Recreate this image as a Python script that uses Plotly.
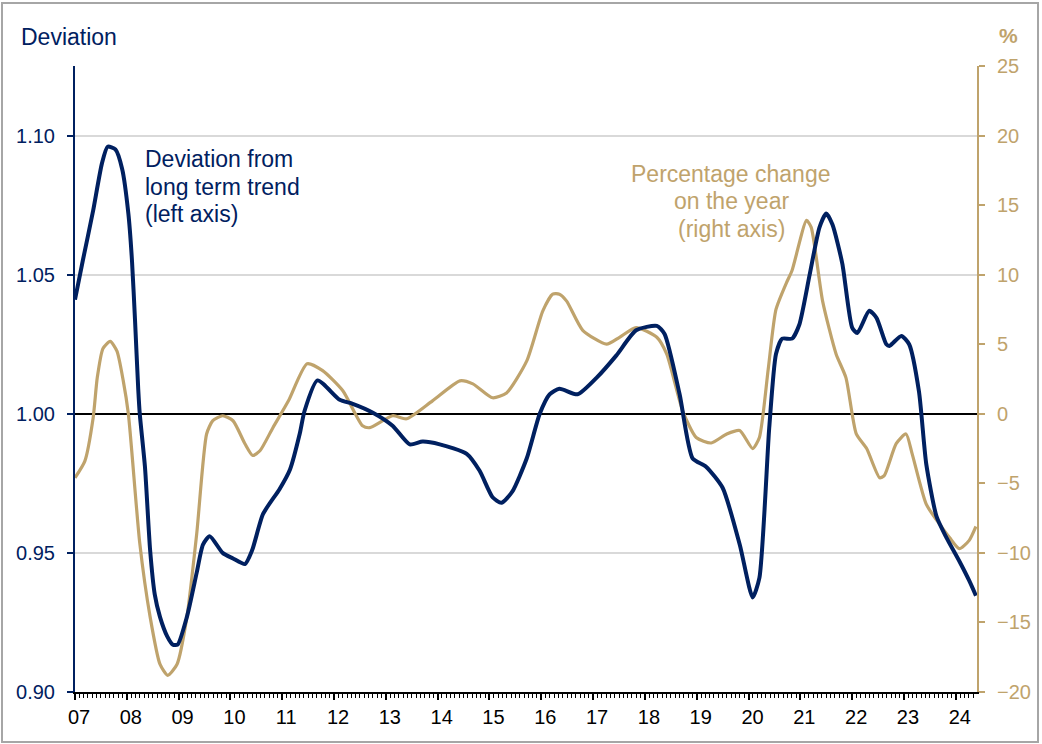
import plotly.graph_objects as go

# ---- data ----
dev_x = [2007.00, 2007.15, 2007.35, 2007.52, 2007.63, 2007.78, 2007.91, 2008.03, 2008.10, 2008.16,
         2008.22, 2008.25, 2008.35, 2008.45, 2008.54, 2008.64, 2008.78, 2008.89, 2008.98, 2009.16,
         2009.35, 2009.47, 2009.60, 2009.85, 2010.05, 2010.28, 2010.42, 2010.63, 2010.95, 2011.15,
         2011.34, 2011.43, 2011.68, 2012.11, 2012.36, 2012.75, 2013.13, 2013.46, 2013.71, 2014.04,
         2014.56, 2014.81, 2015.06, 2015.23, 2015.44, 2015.72, 2015.97, 2016.16, 2016.35, 2016.70,
         2017.07, 2017.45, 2017.83, 2018.23, 2018.38, 2018.67, 2018.92, 2019.18, 2019.50, 2019.83,
         2020.08, 2020.21, 2020.40, 2020.53, 2020.65, 2020.84, 2020.98, 2021.18, 2021.37, 2021.50,
         2021.62, 2021.81, 2022.00, 2022.10, 2022.33, 2022.47, 2022.66, 2022.72, 2022.95, 2023.10,
         2023.29, 2023.43, 2023.63, 2023.82, 2024.07, 2024.26, 2024.39]
dev_y = [1.041, 1.055, 1.073, 1.090, 1.096, 1.095, 1.088, 1.072, 1.055, 1.033,
         1.009, 1.000, 0.981, 0.951, 0.935, 0.927, 0.920, 0.917, 0.917, 0.927,
         0.943, 0.953, 0.956, 0.950, 0.948, 0.946, 0.951, 0.964, 0.973, 0.980,
         0.993, 1.001, 1.012, 1.005, 1.0036, 1.0004, 0.9957, 0.989, 0.990, 0.989,
         0.9856, 0.9795, 0.970, 0.968, 0.972, 0.984, 1.000, 1.007, 1.009, 1.007,
         1.013, 1.021, 1.030, 1.0316, 1.0287, 1.007, 0.984, 0.981, 0.9734, 0.953,
         0.934, 0.941, 0.995, 1.0215, 1.027, 1.027, 1.032, 1.050, 1.067, 1.072,
         1.068, 1.054, 1.031, 1.029, 1.037, 1.0345, 1.025, 1.0244, 1.028, 1.025,
         1.008, 0.982, 0.963, 0.9555, 0.947, 0.940, 0.9346]

pct_x = [2007.00, 2007.19, 2007.35, 2007.43, 2007.54, 2007.68, 2007.81, 2007.93, 2008.03, 2008.25,
         2008.45, 2008.64, 2008.79, 2008.97, 2009.16, 2009.35, 2009.54, 2009.66, 2009.85, 2010.05,
         2010.28, 2010.43, 2010.57, 2010.82, 2011.12, 2011.48, 2011.78, 2012.17, 2012.55, 2012.69,
         2013.13, 2013.40, 2013.90, 2014.43, 2014.68, 2015.06, 2015.33, 2015.72, 2016.03, 2016.22,
         2016.35, 2016.49, 2016.80, 2017.26, 2017.51, 2017.83, 2018.23, 2018.42, 2018.73, 2018.99,
         2019.28, 2019.58, 2019.83, 2020.08, 2020.21, 2020.38, 2020.53, 2020.73, 2020.84, 2021.12,
         2021.21, 2021.43, 2021.69, 2021.88, 2022.08, 2022.28, 2022.53, 2022.62, 2022.85, 2023.04,
         2023.16, 2023.43, 2023.68, 2023.88, 2024.07, 2024.26, 2024.39]
pct_y = [-4.6, -3.4, -0.3, 2.6, 4.7, 5.2, 4.5, 2.4, 0.0, -9.3,
         -14.6, -18.0, -18.8, -18.0, -14.6, -8.6, -1.45, -0.5, -0.14, -0.5,
         -2.15, -3.0, -2.66, -1.0, 0.93, 3.6, 3.1, 1.65, -0.86, -1.0,
         -0.14, -0.36, 0.93, 2.37, 2.15, 1.15, 1.5, 3.8, 7.4, 8.6,
         8.6, 8.1, 6.0, 5.0, 5.5, 6.2, 5.5, 4.3, 0.2, -1.7,
         -2.1, -1.45, -1.2, -2.5, -1.7, 3.2, 7.5, 9.4, 10.3, 13.9,
         13.4, 8.1, 4.3, 2.6, -1.45, -2.5, -4.6, -4.45, -2.15, -1.45,
         -2.9, -6.5, -7.9, -8.9, -9.7, -9.1, -8.1]

year_ticks = list(range(2007, 2025))
year_labels = [f"{y % 100:02d}" for y in year_ticks]
left_ticks = [0.90, 0.95, 1.00, 1.05, 1.10]
right_ticks = [-20, -15, -10, -5, 0, 5, 10, 15, 20, 25]

NAVY = "#002060"
GOLD = "#BFA36C"
FONT = "Liberation Sans, Arial, sans-serif"

W, H = 1042, 744
L, R, T, B = 75, 977, 66, 692


def px(x):
    return (x - L) / (R - L)


def py(y):
    return (B - y) / (B - T)


fig = go.Figure()
fig.add_trace(go.Scatter(x=pct_x, y=pct_y, mode="lines", yaxis="y",
                         line=dict(color=GOLD, width=3.2, shape="spline", smoothing=0.6),
                         showlegend=False, hoverinfo="skip"))
fig.add_trace(go.Scatter(x=dev_x, y=dev_y, mode="lines", yaxis="y2",
                         line=dict(color=NAVY, width=4, shape="spline", smoothing=0.6),
                         showlegend=False, hoverinfo="skip"))

annotations = []
for i, t in enumerate(["Deviation from", "long term trend", "(left axis)"]):
    annotations.append(dict(text=t, xref="paper", yref="paper", x=px(143), y=py(159 + 27.5 * i),
                            xanchor="left", yanchor="middle", showarrow=False,
                            font=dict(size=23, color=NAVY, family=FONT)))
for i, t in enumerate(["Percentage change", "on the year", "(right axis)"]):
    annotations.append(dict(text=t, xref="paper", yref="paper", x=px(731), y=py(174 + 27.5 * i),
                            xanchor="center", yanchor="middle", showarrow=False,
                            font=dict(size=23, color=GOLD, family=FONT)))
annotations.append(dict(text="Deviation", xref="paper", yref="paper", x=px(19), y=py(37),
                        xanchor="left", yanchor="middle", showarrow=False,
                        font=dict(size=23, color=NAVY, family=FONT)))
annotations.append(dict(text="<b>%</b>", xref="paper", yref="paper", x=px(1008), y=py(36),
                        xanchor="center", yanchor="middle", showarrow=False,
                        font=dict(size=21, color=GOLD, family=FONT)))

fig.update_layout(
    width=W, height=H,
    margin=dict(l=L, r=W - R, t=T, b=H - B, autoexpand=False),
    paper_bgcolor="white", plot_bgcolor="white",
    font=dict(family=FONT, size=20),
    annotations=annotations,
    shapes=[dict(type="rect", xref="paper", yref="paper",
                 x0=px(2), x1=px(1038), y0=py(742), y1=py(3),
                 line=dict(color="#A6A6A6", width=2), layer="below")],
    xaxis=dict(range=[2007, 2024.41], tickmode="array", tickvals=year_ticks, ticktext=year_labels,
               ticks="outside", ticklen=6, tickwidth=2, tickcolor="black",
               showline=True, linecolor="black", linewidth=2, showgrid=False, zeroline=False,
               tickfont=dict(size=20, color="black", family=FONT), ticklabelshift=4,
               minor=dict(tickmode="linear", tick0=2007, dtick=1 / 12, ticks="outside",
                          ticklen=4, tickwidth=1, tickcolor="black", showgrid=False)),
    yaxis=dict(range=[-20, 25], tickmode="array", tickvals=right_ticks, side="right",
               showline=True, linecolor=GOLD, linewidth=2, ticks="outside", ticklen=6,
               tickwidth=2, tickcolor=GOLD, showgrid=False,
               zeroline=True, zerolinecolor="black", zerolinewidth=2,
               tickfont=dict(size=20, color=GOLD, family=FONT), ticklabelstandoff=8),
    yaxis2=dict(range=[0.90, 1.125], tickmode="array", tickvals=left_ticks, tickformat=".2f",
                side="left", overlaying="y", showline=True, linecolor=NAVY, linewidth=2,
                ticks="outside", ticklen=6, tickwidth=2, tickcolor=NAVY,
                showgrid=True, gridcolor="#D9D9D9", gridwidth=2, zeroline=False,
                tickfont=dict(size=20, color=NAVY, family=FONT), ticklabelstandoff=8),
)

fig.write_html("out.html", config={"displayModeBar": False},
               post_script="document.body.style.margin='0';document.body.style.padding='0';")
